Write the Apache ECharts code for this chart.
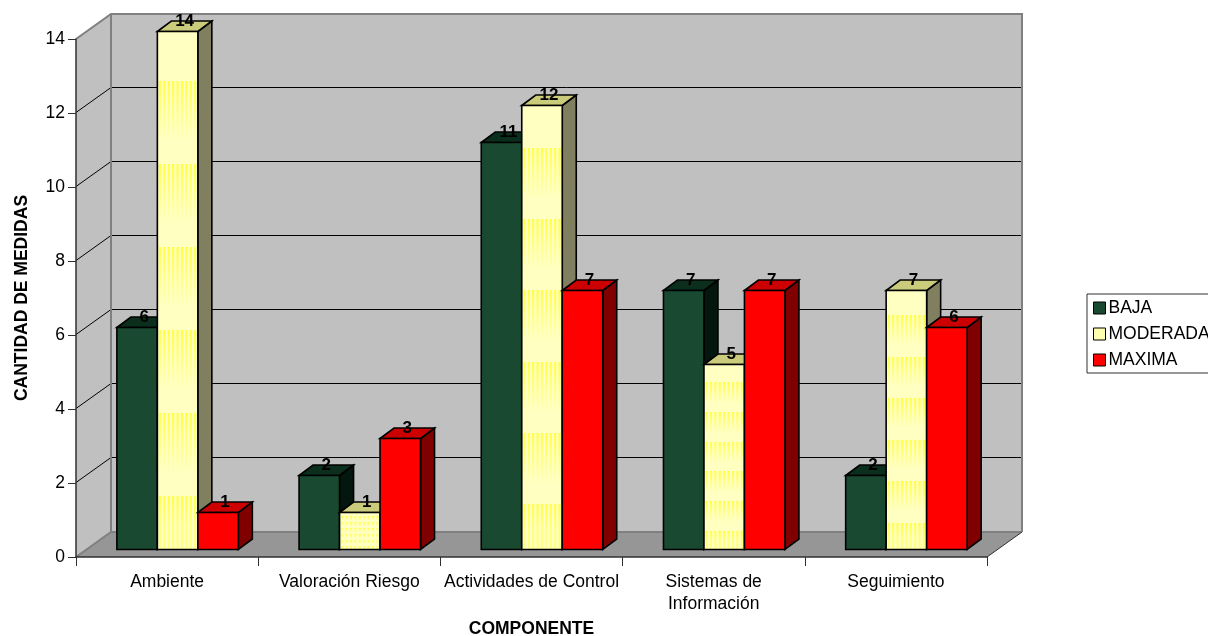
<!DOCTYPE html>
<html>
<head>
<meta charset="utf-8">
<style>html,body{margin:0;padding:0;background:#fff;overflow:hidden}#chart{width:1208px;height:636px}</style>
<script src="https://cdn.jsdelivr.net/npm/echarts@6/dist/echarts.min.js"></script>
</head>
<body>
<div id="chart"></div>
<script>
// Medidas por componente y nivel
const categories = ['Ambiente', 'Valoración Riesgo', 'Actividades de Control', 'Sistemas de\nInformación', 'Seguimiento'];
const baja = [6, 2, 11, 7, 2];
const moderada = [14, 1, 12, 5, 7];
const maxima = [1, 3, 7, 7, 6];
const yTicks = [0, 2, 4, 6, 8, 10, 12, 14];

const FONT = '"Liberation Sans", Arial, sans-serif';
const WALL_DX = 35, WALL_DY = 25;          // profundidad del piso
const BAR_DX = 14, BAR_DY = 10.5;          // profundidad de cada barra
const INSET = 0.3;                         // la barra arranca dentro del piso
const BAND_DIVISOR = 4.5;                  // 3 barras + 50% de separación

const chart = echarts.init(document.getElementById('chart'), null, { renderer: 'canvas' });

// Paredes, piso y líneas de división del cuadro 3D
function renderWalls(params, api) {
  const cs = params.coordSys;
  const x0 = cs.x, x1 = cs.x + cs.width;
  const yBase = api.coord([0, 0])[1];
  const yTop = api.coord([0, 14])[1];
  const children = [
    { type: 'polygon', shape: { points: [[x0, yBase], [x0 + WALL_DX, yBase - WALL_DY], [x0 + WALL_DX, yTop - WALL_DY], [x0, yTop]] },
      style: { fill: '#C0C0C0', stroke: 'none' } },
    { type: 'rect', shape: { x: x0 + WALL_DX, y: yTop - WALL_DY, width: x1 - x0, height: yBase - yTop },
      style: { fill: '#C0C0C0', stroke: 'none' } },
    { type: 'polygon', shape: { points: [[x0, yBase], [x1, yBase], [x1 + WALL_DX, yBase - WALL_DY], [x0 + WALL_DX, yBase - WALL_DY]] },
      style: { fill: '#969696', stroke: 'none' } }
  ];
  yTicks.slice(1, -1).forEach(function (t) {
    const y = Math.round(api.coord([0, t])[1]) - 0.5;
    children.push({ type: 'polyline', shape: { points: [[x0, y], [x0 + WALL_DX, y - WALL_DY], [x1 + WALL_DX, y - WALL_DY]] },
      style: { fill: 'none', stroke: '#000', lineWidth: 1 } });
  });
  // Bordes grises de paredes y piso
  const edge = { fill: 'none', stroke: '#808080', lineWidth: 2 };
  children.push(
    { type: 'polyline', shape: { points: [[x0, yTop], [x0 + WALL_DX, yTop - WALL_DY], [x1 + WALL_DX, yTop - WALL_DY], [x1 + WALL_DX, yBase - WALL_DY]] }, style: edge },
    { type: 'polyline', shape: { points: [[x0, yBase], [x0 + WALL_DX, yBase - WALL_DY], [x1 + WALL_DX, yBase - WALL_DY]] }, style: edge },
    { type: 'line', shape: { x1: x0 + WALL_DX, y1: yTop - WALL_DY, x2: x0 + WALL_DX, y2: yBase - WALL_DY }, style: edge },
    { type: 'line', shape: { x1: x1, y1: yBase, x2: x1 + WALL_DX, y2: yBase - WALL_DY }, style: { stroke: '#303030', lineWidth: 1 } }
  );
  return { type: 'group', children: children };
}

// Franjas verticales del relleno amarillo: cada barra repite unas seis bandas
function stripeFill() {
  const periods = 6.24, phase = 0.6;
  const period = 1 / periods;
  const stops = [];
  for (let k = -1; k < 8; k++) {
    const on = (phase + k) * period;
    [[0, 1], [0.35, 0.5], [0.72, 0], [0.999, 0]].forEach(function (s) {
      const off = on + s[0] * period;
      if (off >= 0 && off <= 1) stops.push({ offset: off, color: 'rgba(255,255,70,' + s[1] + ')' });
    });
  }
  return new echarts.graphic.LinearGradient(0, 0, 0, 1, stops);
}

// Barra 3D: cara frontal, lateral y superior, con su rótulo de valor
function barRenderer(seriesIndex, colors) {
  return function (params, api) {
    const cat = api.value(0), val = api.value(1);
    const base = api.coord([cat, 0]);
    const top = api.coord([cat, val]);
    const band = api.size([1, 0])[0];
    const w = band / BAND_DIVISOR;
    const fx = base[0] + WALL_DX * INSET + (seriesIndex - 1.5) * w;
    const by = base[1] - WALL_DY * INSET;
    const ty = top[1] - WALL_DY * INSET;
    const line = { stroke: '#000', lineWidth: 1.6, lineJoin: 'miter' };
    const children = [
      { type: 'polygon', shape: { points: [[fx + w, ty], [fx + w + BAR_DX, ty - BAR_DY], [fx + w + BAR_DX, by - BAR_DY], [fx + w, by]] },
        style: Object.assign({ fill: colors.side }, line) },
      { type: 'polygon', shape: { points: [[fx, ty], [fx + BAR_DX, ty - BAR_DY], [fx + w + BAR_DX, ty - BAR_DY], [fx + w, ty]] },
        style: Object.assign({ fill: colors.top }, line) },
      { type: 'rect', shape: { x: fx, y: ty, width: w, height: by - ty }, style: { fill: colors.front, stroke: 'none' } }
    ];
    if (colors.striped) {
      const fill = stripeFill();
      for (let sx = fx + 1.5; sx < fx + w - 1.5; sx += 4.4) {
        children.push({ type: 'rect', shape: { x: sx, y: ty, width: 2.2, height: by - ty }, style: { fill: fill } });
      }
    }
    children.push(
      { type: 'rect', shape: { x: fx, y: ty, width: w, height: by - ty }, style: Object.assign({ fill: 'none' }, line) },
      { type: 'text', z2: 20, style: { x: fx + w / 2 + BAR_DX / 2, y: ty - BAR_DY, text: String(val),
          font: 'bold 17px ' + FONT, fill: '#000', align: 'center', verticalAlign: 'middle' } }
    );
    return { type: 'group', children: children };
  };
}

const palette = [
  { front: '#194A31', side: '#04170E', top: '#0C2E1D' },
  { front: '#FFFFC2', side: '#808060', top: '#CBCB7C', striped: true },
  { front: '#FF0000', side: '#800000', top: '#CC0000' }
];
const names = ['BAJA', 'MODERADA', 'MAXIMA'];
const legendColors = ['#194A31', '#FFFFB0', '#FF0000'];
const values = [baja, moderada, maxima];

const barSeries = names.map(function (name, i) {
  return {
    type: 'custom', name: name, z: 3 + i,
    renderItem: barRenderer(i, palette[i]),
    encode: { x: 0, y: 1 },
    itemStyle: { color: legendColors[i], borderColor: '#000', borderWidth: 1 },
    data: values[i].map(function (v, c) { return [c, v]; })
  };
});

chart.setOption({
  animation: false,
  backgroundColor: '#fff',
  textStyle: { fontFamily: FONT },
  grid: { left: 76, top: 39, width: 911, height: 518, containLabel: false, outerBoundsMode: 'none' },
  legend: {
    show: true, orient: 'vertical', left: 1087, top: 294,
    data: names, icon: 'rect',
    itemWidth: 12, itemHeight: 12, itemGap: 8,
    padding: [5, 30, 4, 6],
    backgroundColor: '#fff', borderColor: '#303030', borderWidth: 1, borderRadius: 0,
    itemStyle: { borderColor: '#000', borderWidth: 1 },
    textStyle: { fontFamily: FONT, fontSize: 17.5, color: '#000', padding: [0, 0, 0, -2] }
  },
  xAxis: {
    type: 'category', data: categories,
    name: 'COMPONENTE', nameLocation: 'middle', nameGap: 63,
    nameTextStyle: { fontFamily: FONT, fontWeight: 'bold', fontSize: 17.5, color: '#000' },
    axisLine: { show: true, lineStyle: { color: '#303030', width: 1.5 } },
    axisTick: { show: true, length: 9, alignWithLabel: false, lineStyle: { color: '#303030', width: 1 } },
    axisLabel: { interval: 0, margin: 14, fontSize: 17.5, lineHeight: 22, color: '#000', fontFamily: FONT },
    splitLine: { show: false }
  },
  yAxis: {
    type: 'value', min: 0, max: 14, interval: 2,
    name: 'CANTIDAD DE MEDIDAS', nameLocation: 'middle', nameGap: 45,
    nameTextStyle: { fontFamily: FONT, fontWeight: 'bold', fontSize: 17.5, color: '#000' },
    axisLine: { show: true, lineStyle: { color: '#303030', width: 1.5 } },
    axisTick: { show: true, length: 8, lineStyle: { color: '#303030', width: 1 } },
    axisLabel: { margin: 11, fontSize: 17.5, color: '#000', fontFamily: FONT },
    splitLine: { show: false }
  },
  series: [
    { type: 'custom', name: 'cuadro', z: 0, silent: true, renderItem: renderWalls, encode: { x: 0, y: 1 }, data: [[0, 0]] }
  ].concat(barSeries)
});
</script>
</body>
</html>
